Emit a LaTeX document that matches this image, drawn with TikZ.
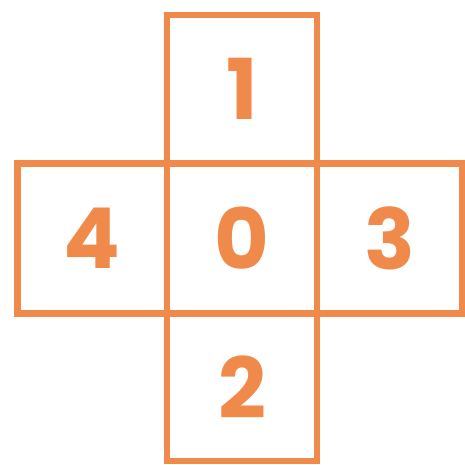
\documentclass[tikz,border=0pt]{standalone}
\usepackage{fontspec}
\newfontfamily\digitfont{Poppins}
\definecolor{crossorange}{RGB}{240,138,74}
\begin{document}
\begin{tikzpicture}[x=1pt,y=-1pt,
  cell/.style={draw=crossorange, line width=6.5pt, rectangle, inner sep=0pt, outer sep=0pt,
    text=crossorange, font=\digitfont\bfseries\fontsize{84}{84}\selectfont}]
\useasboundingbox (0,0) rectangle (465,464);
\node[cell, minimum width=150pt, minimum height=150pt] (c0) at (242,238.5) {0};
\node[cell, minimum width=150pt, minimum height=148.5pt] (c1) at (242,89.25) {1};
\node[cell, minimum width=150pt, minimum height=147.5pt] (c2) at (242,387.25) {2};
\node[cell, minimum width=145pt, minimum height=150pt] (c3) at (389.5,238.5) {3};
\node[cell, minimum width=149.5pt, minimum height=150pt] (c4) at (92.25,238.5) {4};
\end{tikzpicture}
\end{document}
